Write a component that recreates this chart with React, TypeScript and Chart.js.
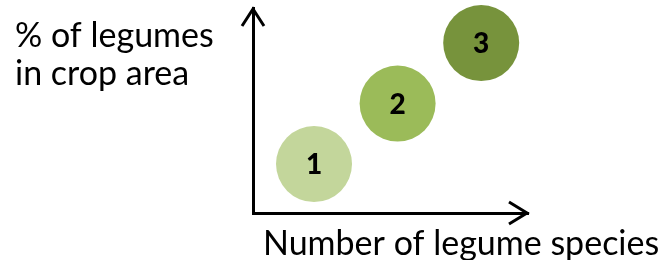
import React, { useEffect, useRef } from "react";
import { Chart, registerables } from "chart.js";

Chart.register(...registerables);

const categories = ["1", "2", "3"];
const speciesValues = [1, 2, 3];
const legumeShareValues = [1, 2, 3];
const bubbleColors = ["#C3D69B", "#9BBB59", "#77933C"];
const yTitleLines = ["% of legumes", "in crop area"];
const xTitle = "Number of legume species";

const FONT = "Lato, 'Open Sans', sans-serif";

const decorPlugin = {
  id: "decor",
  afterDraw(chart: any) {
    const { ctx, chartArea } = chart;
    const { left, top, right, bottom } = chartArea;
    ctx.save();
    // arrowheads
    ctx.strokeStyle = "#000";
    ctx.lineWidth = 3;
    ctx.lineJoin = "miter";
    ctx.lineCap = "butt";
    ctx.beginPath();
    ctx.moveTo(left - 11, top + 18);
    ctx.lineTo(left, top + 1);
    ctx.lineTo(left + 11, top + 18);
    ctx.stroke();
    ctx.beginPath();
    ctx.moveTo(right - 19, bottom - 11);
    ctx.lineTo(right - 1, bottom);
    ctx.lineTo(right - 19, bottom + 11);
    ctx.stroke();
    // bubble labels
    const meta = chart.getDatasetMeta(0);
    ctx.fillStyle = "#000";
    ctx.font = `900 28px ${FONT}`;
    ctx.textAlign = "center";
    ctx.textBaseline = "middle";
    meta.data.forEach((el: any, i: number) => {
      ctx.fillText(categories[i], el.x, el.y + 1);
    });
    // titles
    ctx.font = `34px ${FONT}`;
    ctx.textAlign = "left";
    ctx.textBaseline = "alphabetic";
    ctx.fillText(yTitleLines[0], 15, 47);
    ctx.fillText(yTitleLines[1], 15, 85);
    ctx.fillText(xTitle, 263, 255);
    ctx.restore();
  },
};

export default function App() {
  const ref = useRef<HTMLCanvasElement>(null);
  useEffect(() => {
    if (!ref.current) return;
    const chart = new Chart(ref.current, {
      type: "bubble",
      data: {
        labels: categories,
        datasets: [
          {
            data: speciesValues.map((x, i) => ({ x, y: legumeShareValues[i], r: 38 })),
            backgroundColor: bubbleColors,
            borderWidth: 0,
            hoverBorderWidth: 0,
            clip: false,
          },
        ],
      },
      options: {
        animation: false,
        responsive: false,
        maintainAspectRatio: false,
        layout: { autoPadding: false, padding: { left: 253, right: 139, top: 8, bottom: 47 } },
        plugins: { legend: { display: false }, tooltip: { enabled: false } },
        events: [],
        scales: {
          x: {
            type: "linear",
            min: 0.27,
            max: 3.56,
            ticks: { display: false },
            grid: { color: "transparent", drawTicks: false },
            border: { display: true, color: "#000", width: 3 },
          },
          y: {
            type: "linear",
            min: 0.19,
            max: 3.58,
            ticks: { display: false },
            grid: { color: "transparent", drawTicks: false },
            border: { display: true, color: "#000", width: 3 },
          },
        },
      },
      plugins: [decorPlugin],
    });
    return () => chart.destroy();
  }, []);
  return (
    <div style={{ position: "absolute", left: 0, top: 0, width: 667, height: 260, background: "#fff" }}>
      <canvas ref={ref} width={667} height={260} style={{ width: 667, height: 260 }} />
    </div>
  );
}
